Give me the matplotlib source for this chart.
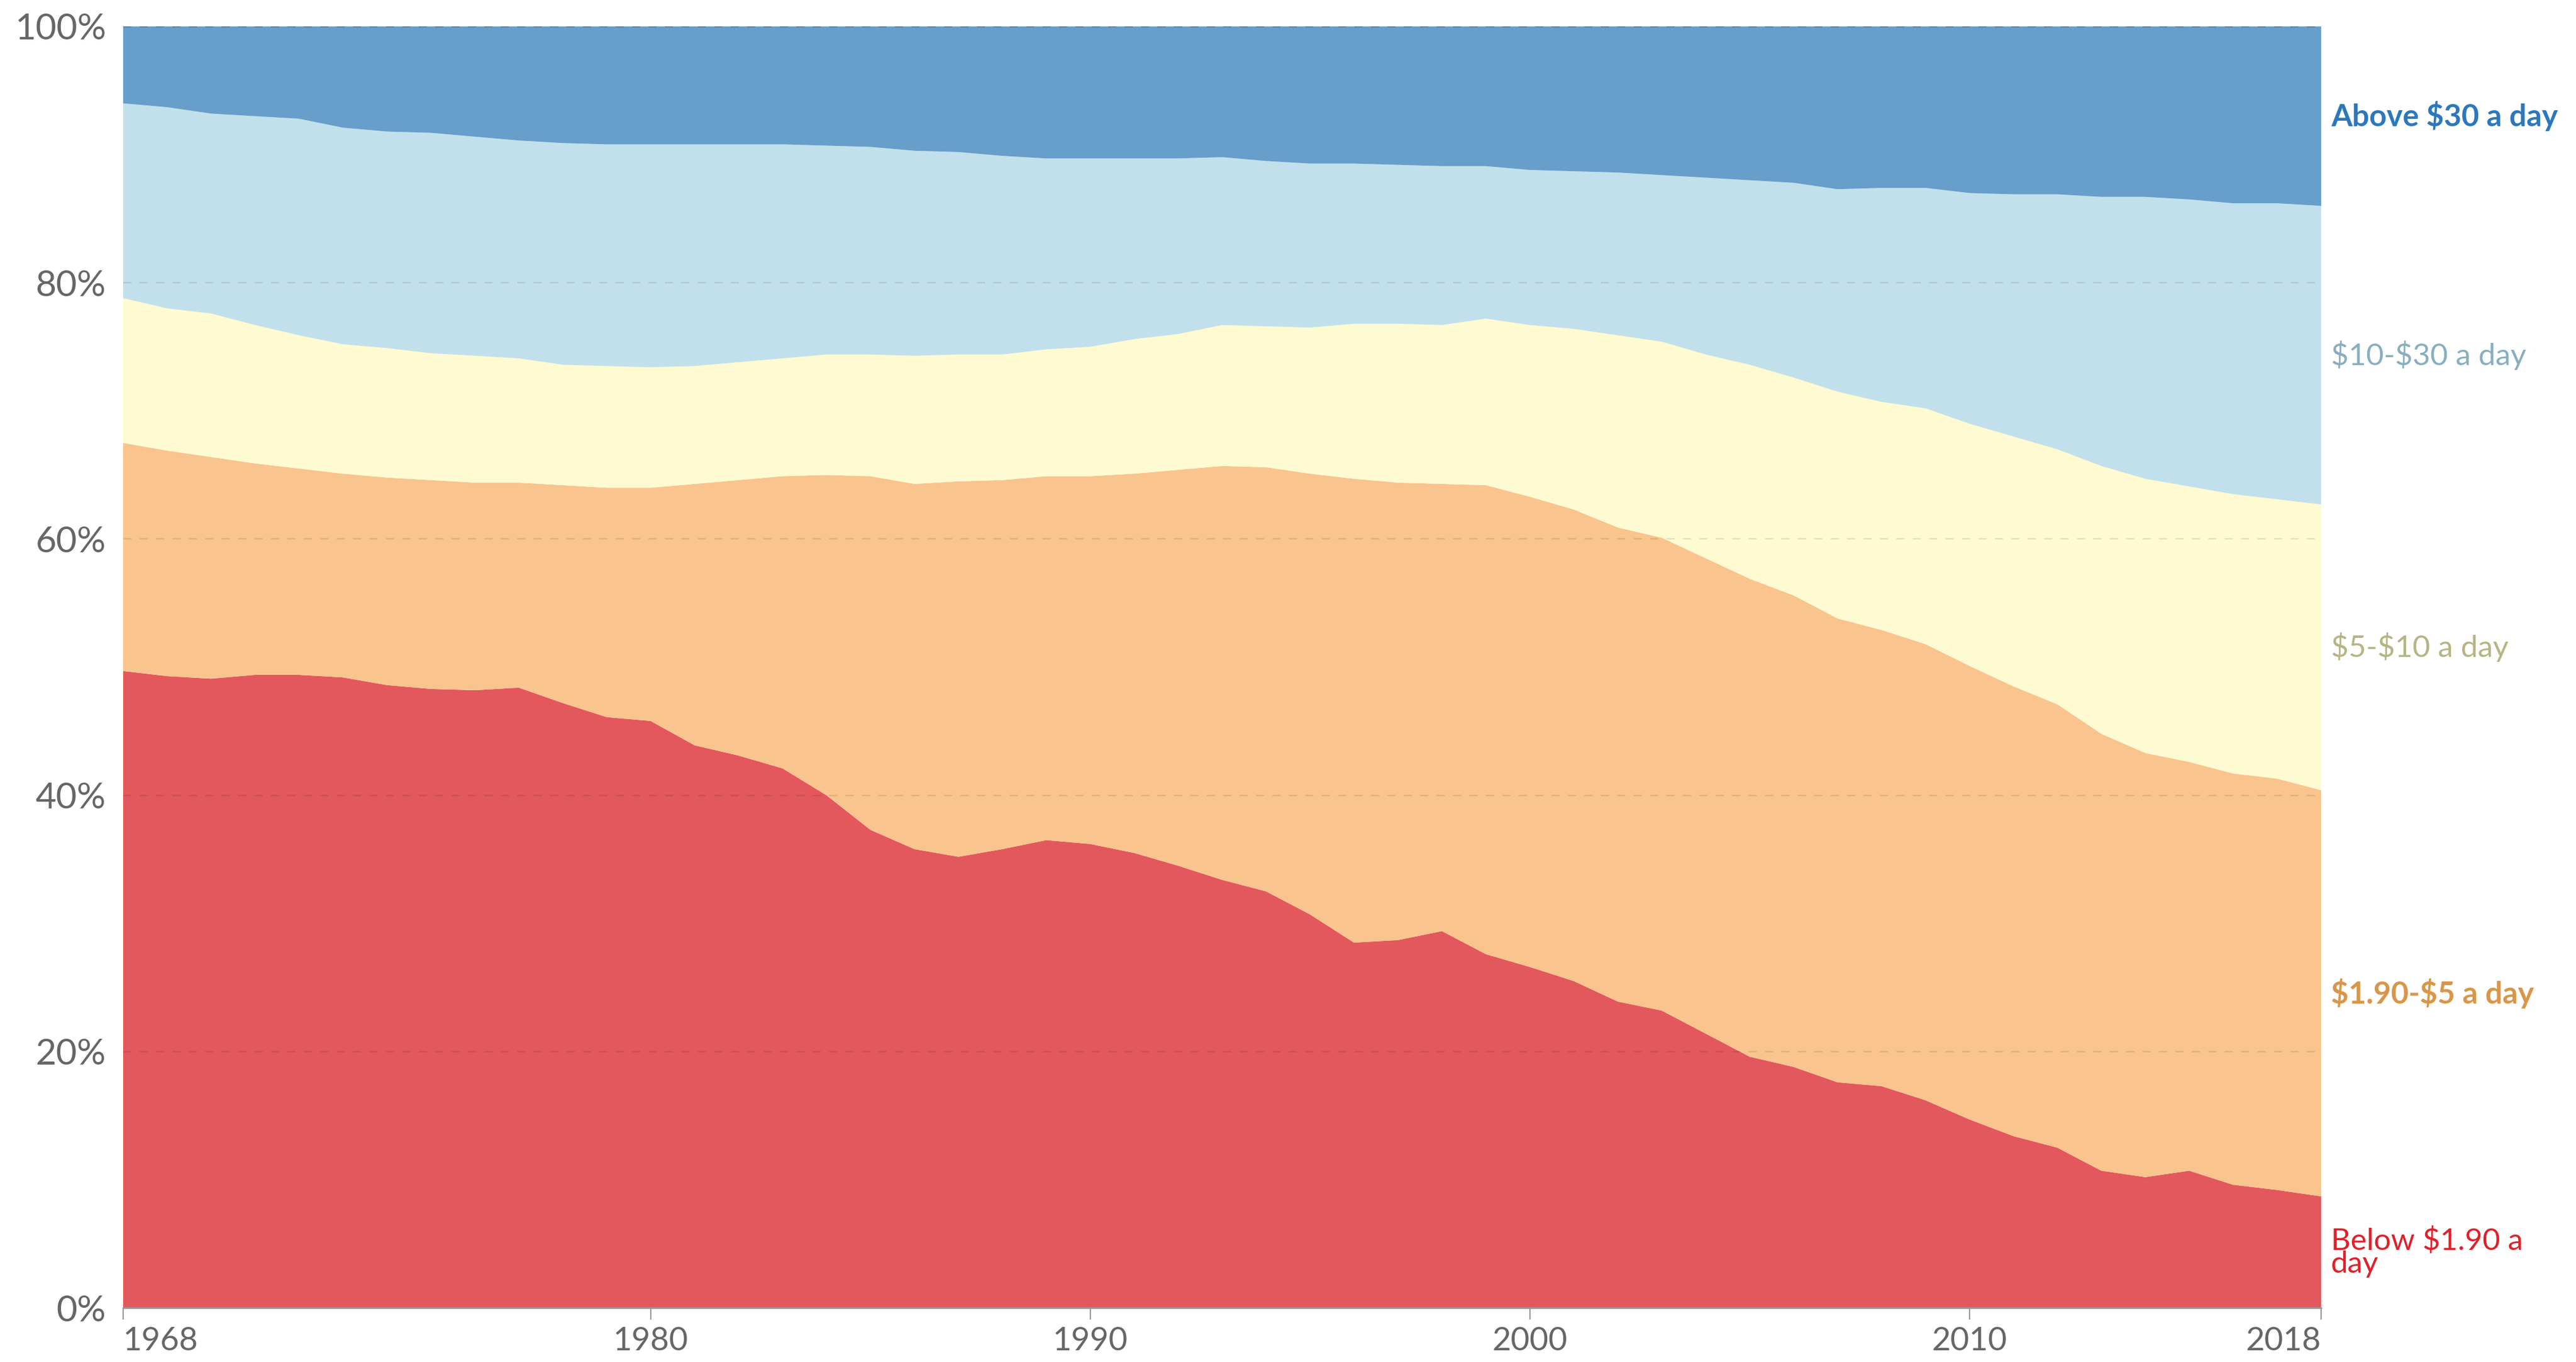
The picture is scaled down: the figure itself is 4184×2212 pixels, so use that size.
import matplotlib
matplotlib.use("Agg")
import matplotlib.pyplot as plt
import matplotlib.transforms as mtransforms

years = list(range(1968, 2019))

below_190 = [49.7, 49.3, 49.1, 49.4, 49.4, 49.2, 48.6, 48.3, 48.2, 48.4,
             47.2, 46.1, 45.8, 43.9, 43.1, 42.1, 40.0, 37.3, 35.8, 35.2,
             35.8, 36.5, 36.2, 35.5, 34.5, 33.4, 32.5, 30.7, 28.5, 28.7,
             29.4, 27.6, 26.6, 25.5, 23.9, 23.2, 21.4, 19.6, 18.8, 17.6,
             17.3, 16.2, 14.7, 13.4, 12.5, 10.7, 10.2, 10.7, 9.6, 9.2, 8.7]

from_190_to_5 = [17.8, 17.6, 17.3, 16.5, 16.1, 15.9, 16.2, 16.3, 16.2, 16.0,
                 17.0, 17.9, 18.2, 20.4, 21.5, 22.8, 25.0, 27.6, 28.5, 29.3,
                 28.8, 28.4, 28.7, 29.6, 30.9, 32.3, 33.1, 34.4, 36.2, 35.7,
                 34.9, 36.6, 36.7, 36.8, 37.0, 36.9, 37.1, 37.3, 36.8, 36.2,
                 35.6, 35.6, 35.4, 35.1, 34.6, 34.1, 33.1, 31.9, 32.1, 32.1, 31.7]

from_5_to_10 = [11.3, 11.1, 11.2, 10.8, 10.4, 10.1, 10.1, 9.9, 9.9, 9.7,
                9.4, 9.5, 9.4, 9.2, 9.2, 9.2, 9.4, 9.5, 10.0, 9.9,
                9.8, 9.9, 10.1, 10.5, 10.6, 11.0, 11.0, 11.4, 12.1, 12.4,
                12.4, 13.0, 13.4, 14.1, 15.0, 15.3, 15.9, 16.7, 17.0, 17.7,
                17.8, 18.4, 18.9, 19.5, 19.9, 20.9, 21.4, 21.5, 21.8, 21.8, 22.3]

from_10_to_30 = [15.2, 15.7, 15.6, 16.3, 16.9, 16.9, 16.9, 17.2, 17.1, 17.0,
                 17.3, 17.3, 17.4, 17.3, 17.0, 16.7, 16.3, 16.2, 16.0, 15.8,
                 15.5, 14.9, 14.7, 14.1, 13.7, 13.1, 12.9, 12.8, 12.5, 12.4,
                 12.4, 11.9, 12.1, 12.3, 12.7, 13.0, 13.8, 14.4, 15.2, 15.8,
                 16.7, 17.2, 18.0, 18.9, 19.9, 21.0, 22.0, 22.4, 22.7, 23.1, 23.3]

above_30 = [6.0, 6.3, 6.8, 7.0, 7.2, 7.9, 8.2, 8.3, 8.6, 8.9,
            9.1, 9.2, 9.2, 9.2, 9.2, 9.2, 9.3, 9.4, 9.7, 9.8,
            10.1, 10.3, 10.3, 10.3, 10.3, 10.2, 10.5, 10.7, 10.7, 10.8,
            10.9, 10.9, 11.2, 11.3, 11.4, 11.6, 11.8, 12.0, 12.2, 12.7,
            12.6, 12.6, 13.0, 13.1, 13.1, 13.3, 13.3, 13.5, 13.8, 13.8, 14.0]

series_labels = ["Below \\$1.90 a\nday", "\\$1.90-\\$5 a day", "\\$5-\\$10 a day",
                 "\\$10-\\$30 a day", "Above \\$30 a day"]
fill_colors = ["#E3585C", "#F9C48D", "#FEFAD1", "#C2E0EB", "#679ECA"]
label_colors = ["#E0202A", "#D9964A", "#B5B585", "#88AFBE", "#2C78BD"]
label_weights = ["normal", "bold", "normal", "normal", "bold"]

x_ticks = [1968, 1980, 1990, 2000, 2010, 2018]
y_ticks = [0, 20, 40, 60, 80, 100]
y_tick_labels = ["0%", "20%", "40%", "60%", "80%", "100%"]

plt.rcParams['font.family'] = ['Lato', 'DejaVu Sans']

fig = plt.figure(figsize=(41.84, 22.12), dpi=100)
ax = fig.add_axes([200/4184, 1 - 2124/2212, (3770-200)/4184, (2124-43)/2212])

data = [below_190, from_190_to_5, from_5_to_10, from_10_to_30, above_30]
ax.stackplot(years, *data, colors=fill_colors, linewidth=0, zorder=1)

ax.set_xlim(1968, 2018)
ax.set_ylim(0, 100)

for yv in y_ticks[1:]:
    ax.axhline(yv, color="#000000", alpha=0.10 if yv < 100 else 0.35,
               linewidth=1.6, linestyle=(0, (6, 6)), zorder=3)

for s in ["top", "right", "left"]:
    ax.spines[s].set_visible(False)
ax.spines["bottom"].set_color("#999999")
ax.spines["bottom"].set_linewidth(2)
ax.spines["bottom"].set_zorder(4)

ax.set_xticks(x_ticks)
ax.set_xticklabels([str(t) for t in x_ticks])
ax.tick_params(axis="x", length=14, width=1.5, color="#999999", pad=8,
               labelsize=38, labelcolor="#666666")
xl = ax.get_xticklabels()
xl[0].set_horizontalalignment("left")
xl[-1].set_horizontalalignment("right")

ax.set_yticks(y_ticks)
ax.set_yticklabels(y_tick_labels)
ax.tick_params(axis="y", length=0, pad=20, labelsize=42, labelcolor="#666666")

# right-side labels centered on each band at the final year
trans = mtransforms.blended_transform_factory(ax.transAxes, ax.transData)
cum = 0.0
for vals, lab, col, w in zip(data, series_labels, label_colors, label_weights):
    mid = cum + vals[-1] / 2.0
    cum += vals[-1]
    ax.text(1.0045, mid, lab, transform=trans, ha="left", va="center",
            fontsize=35.5, color=col, fontweight=w, linespacing=0.8,
            clip_on=False)

fig.savefig("out.png", dpi=100, facecolor="white")
